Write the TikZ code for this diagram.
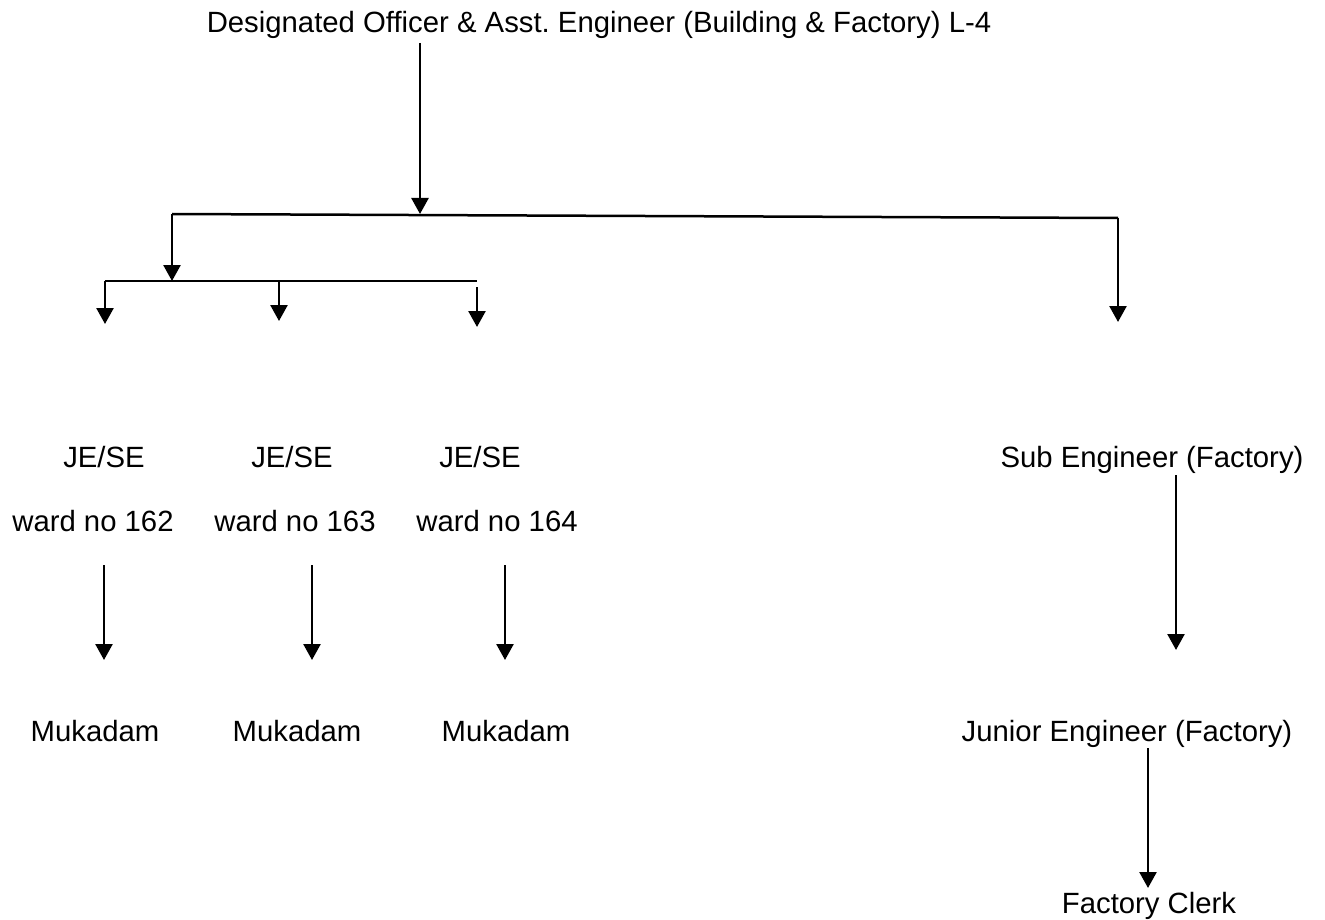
\documentclass[tikz,border=0pt]{standalone}
\usepackage{fontspec}
\setmainfont{Liberation Sans}
\usetikzlibrary{arrows.meta}
\frenchspacing
\newcommand{\lblfont}{\fontsize{29.3}{34}\selectfont}
\begin{document}
\begin{tikzpicture}[x=1pt,y=-1pt,
  lbl/.style={anchor=base,inner sep=0pt,font=\lblfont},
  conn/.style={line width=2.5pt},
  arr/.style={conn,-{Triangle[width=17pt,length=16pt]}}]
\useasboundingbox (0,0) rectangle (1325,920);
% texts
\node[lbl] (top) at (599,33) {Designated Officer \& Asst. Engineer (Building \& Factory) L-4};
\node[lbl] (je1) at (104,467) {JE/SE};
\node[lbl] (je2) at (292,467) {JE/SE};
\node[lbl] (je3) at (480,467) {JE/SE};
\node[lbl] (w1) at (93,531) {ward no 162};
\node[lbl] (w2) at (295,531) {ward no 163};
\node[lbl] (w3) at (497,531) {ward no 164};
\node[lbl] (m1) at (95,741) {Mukadam};
\node[lbl] (m2) at (297,741) {Mukadam};
\node[lbl] (m3) at (506,741) {Mukadam};
\node[lbl] (sub) at (1152,467) {Sub Engineer (Factory)};
\node[lbl] (jun) at (1127,741) {Junior Engineer (Factory)};
\node[lbl] (clk) at (1149,913) {Factory Clerk};
% junction coordinates
\coordinate (t0) at (420,43);
\coordinate (t1) at (420,214);
\coordinate (hl) at (172,214);
\coordinate (hr) at (1118,218);
\coordinate (l1) at (172,281);
\coordinate (sl) at (105,281);
\coordinate (sr) at (477,281);
\coordinate (a1) at (105,324);
\coordinate (b2) at (279,281);
\coordinate (a2) at (279,321);
\coordinate (b3) at (477,287);
\coordinate (a3) at (477,327);
\coordinate (ar) at (1118,322);
\coordinate (w1s) at (104,565);
\coordinate (w1e) at (104,660);
\coordinate (w2s) at (312,565);
\coordinate (w2e) at (312,660);
\coordinate (w3s) at (505,565);
\coordinate (w3e) at (505,660);
\coordinate (s1) at (1176,475);
\coordinate (s2) at (1176,650);
\coordinate (j1) at (1148,748);
\coordinate (j2) at (1148,888);
% connectors
\draw[arr] (t0) -- (t1);
\draw[conn] (hl) -- (hr);
\draw[arr] (hl) -- (l1);
\draw[conn] (sl) -- (sr);
\draw[arr] (sl) -- (a1);
\draw[arr] (b2) -- (a2);
\draw[arr] (b3) -- (a3);
\draw[arr] (hr) -- (ar);
\draw[arr] (w1s) -- (w1e);
\draw[arr] (w2s) -- (w2e);
\draw[arr] (w3s) -- (w3e);
\draw[arr] (s1) -- (s2);
\draw[arr] (j1) -- (j2);
\end{tikzpicture}
\end{document}
